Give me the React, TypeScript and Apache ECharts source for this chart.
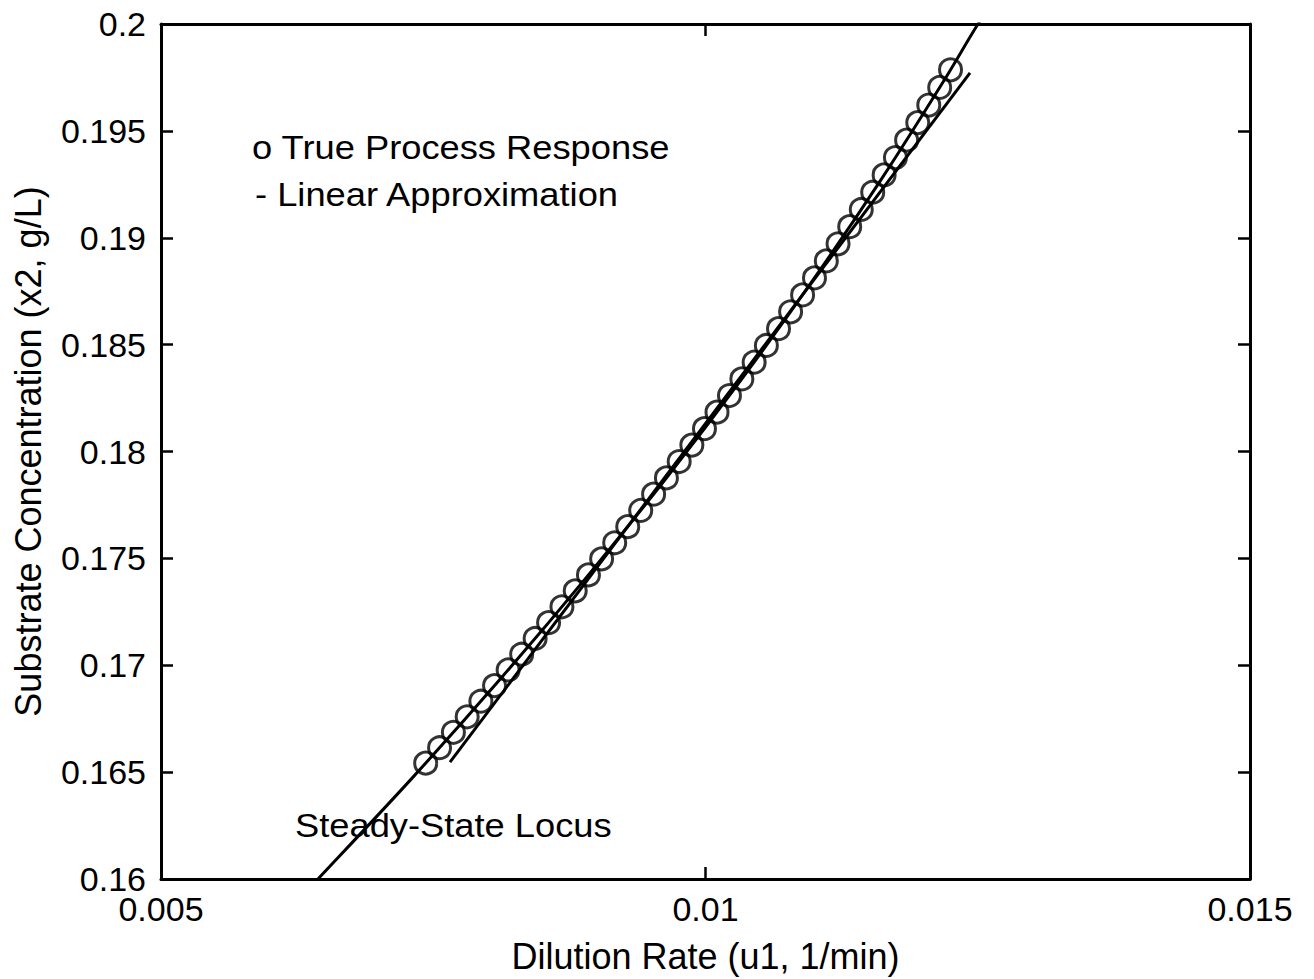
import { useEffect, useRef } from "react";
import * as echarts from "echarts";

// True process response (steady-state points), dilution rate u1 [1/min] vs substrate x2 [g/L]
const processU1 = [
  0.0074306, 0.007558, 0.0076851, 0.0078115, 0.0079374, 0.0080628, 0.0081877, 0.008312,
  0.0084357, 0.008559, 0.0086817, 0.0088037, 0.0089252, 0.0090461, 0.0091663, 0.009286,
  0.009405, 0.0095234, 0.0096411, 0.0097583, 0.0098747, 0.0099905, 0.0101056, 0.01022,
  0.0103338, 0.0104467, 0.010559, 0.0106705, 0.0107815, 0.0108916, 0.0110008, 0.0111095,
  0.0112172, 0.0113243, 0.0114304, 0.0115357, 0.0116403, 0.0117441, 0.0118469, 0.011949,
  0.0120502, 0.0121505, 0.01225,
];
const processX2 = [
  0.165421, 0.166141, 0.166864, 0.167589, 0.168317, 0.169047, 0.16978, 0.170515,
  0.171252, 0.171993, 0.172735, 0.17348, 0.174227, 0.174977, 0.17573, 0.176485,
  0.177242, 0.178003, 0.178765, 0.179531, 0.180299, 0.181069, 0.181842, 0.182618,
  0.183396, 0.184177, 0.18496, 0.185746, 0.186535, 0.187326, 0.18812, 0.188917,
  0.189716, 0.190518, 0.191322, 0.192129, 0.192939, 0.193752, 0.194567, 0.195386,
  0.196207, 0.197031, 0.197857,
];

// Steady-state locus curve
const locusU1 = [
  0.0062659, 0.0064417, 0.0072973, 0.0081138, 0.0088913, 0.0096298, 0.0103292, 0.0109895,
  0.0116109, 0.0121932, 0.0125022, 0.0126525,
];
const locusX2 = [
  0.159065, 0.16, 0.164673, 0.169346, 0.174019, 0.178692, 0.183364, 0.188037, 0.19271,
  0.197383, 0.2, 0.201121,
];

// Linear approximation endpoints
const linearU1 = [0.0076538, 0.0124288];
const linearX2 = [0.165467, 0.19771];

const xRange = { min: 0.005, max: 0.015, interval: 0.005 };
const yRange = { min: 0.16, max: 0.2, interval: 0.005 };

const FONT = "Liberation Sans";
const TICK_FS = 34;
const NAME_FS = 36;
const NOTE_FS = 33;

const zip = (a: number[], b: number[]) => a.map((v, i) => [v, b[i]]);

export default function App() {
  const ref = useRef<HTMLDivElement>(null);

  useEffect(() => {
    if (!ref.current) return;
    const chart = echarts.init(ref.current, null, { renderer: "svg" });
    const axisLine = { show: true, lineStyle: { color: "#000", width: 3 } };
    const tick = { show: true, inside: true, length: 12, lineStyle: { color: "#000", width: 2.5 } };
    const label = { color: "#000", fontSize: TICK_FS, fontFamily: FONT };
    const nameStyle = { color: "#000", fontSize: NAME_FS, fontFamily: FONT };

    const note = (text: string, x: number, y: number) => ({
      type: "text",
      x,
      y,
      scaleX: 1.1,
      style: {
        text,
        fontSize: NOTE_FS,
        fontFamily: FONT,
        fill: "#000",
        verticalAlign: "middle",
        textVerticalAlign: "middle",
      },
    });

    chart.setOption({
      animation: false,
      backgroundColor: "#fff",
      grid: { left: 161, right: 64, top: 24, bottom: 99, containLabel: false },
      xAxis: [
        {
          type: "value",
          ...xRange,
          position: "bottom",
          axisLine,
          axisTick: tick,
          splitLine: { show: false },
          axisLabel: { ...label, margin: 13 },
          name: "Dilution Rate (u1, 1/min)",
          nameLocation: "middle",
          nameGap: 59,
          nameTextStyle: nameStyle,
        },
        {
          type: "value",
          ...xRange,
          position: "top",
          axisLine,
          axisTick: tick,
          splitLine: { show: false },
          axisLabel: { show: false },
        },
      ],
      yAxis: [
        {
          type: "value",
          ...yRange,
          position: "left",
          axisLine,
          axisTick: tick,
          splitLine: { show: false },
          axisLabel: { ...label, margin: 15 },
          name: "Substrate Concentration (x2, g/L)",
          nameLocation: "middle",
          nameGap: 115,
          nameTextStyle: nameStyle,
        },
        {
          type: "value",
          ...yRange,
          position: "right",
          axisLine,
          axisTick: tick,
          splitLine: { show: false },
          axisLabel: { show: false },
        },
      ],
      series: [
        {
          name: "Steady-State Locus",
          type: "line",
          data: zip(locusU1, locusX2),
          smooth: 0.3,
          showSymbol: false,
          symbol: "none",
          clip: true,
          lineStyle: { color: "#000", width: 3 },
          z: 2,
        },
        {
          name: "Linear Approximation",
          type: "line",
          data: zip(linearU1, linearX2),
          showSymbol: false,
          symbol: "none",
          lineStyle: { color: "#000", width: 3 },
          z: 3,
        },
        {
          name: "True Process Response",
          type: "scatter",
          data: zip(processU1, processX2),
          symbol: "circle",
          symbolSize: 22,
          itemStyle: { color: "rgba(0,0,0,0)", borderColor: "#000", borderWidth: 3 },
          z: 4,
        },
      ],
      graphic: [
        note("o True Process Response", 252, 148),
        note("- Linear Approximation", 255, 195),
        note("Steady-State Locus", 295, 826),
      ],
    });

    return () => chart.dispose();
  }, []);

  return (
    <div
      ref={ref}
      style={{ position: "absolute", left: 0, top: 0, width: 1314, height: 979, background: "#fff" }}
    />
  );
}
